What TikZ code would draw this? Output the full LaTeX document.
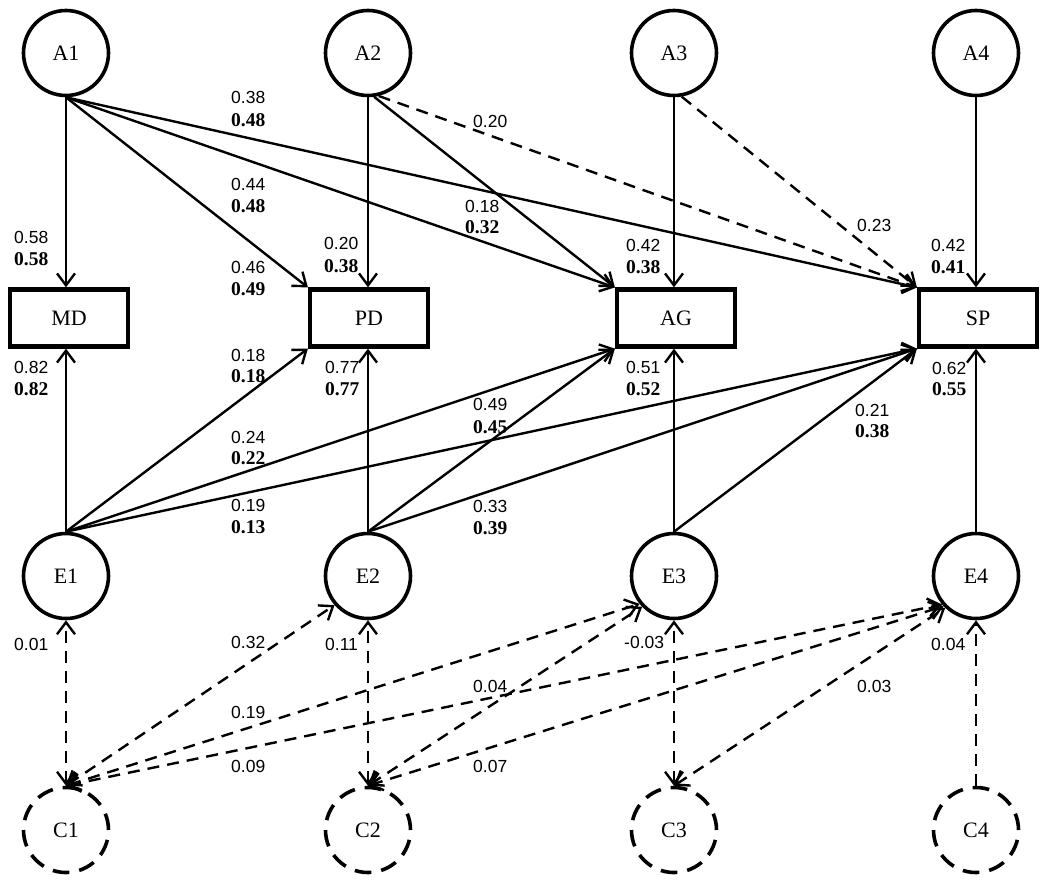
\documentclass[tikz,border=0pt]{standalone}
\usepackage{fontspec}
\setmainfont{Liberation Serif}
\newfontfamily\plainnum{Liberation Sans}
\usetikzlibrary{arrows.meta}
\begin{document}
\begin{tikzpicture}[x=1pt,y=-1pt,
  lat/.style={circle,draw,line width=3.6pt,minimum size=85pt,inner sep=0pt,font=\fontsize{22}{24}\selectfont},
  ctl/.style={lat,dash pattern=on 16.7pt off 10pt},
  obs/.style={rectangle,draw,line width=4.2pt,minimum width=118pt,minimum height=57pt,inner sep=0pt,font=\fontsize{22}{24}\selectfont},
  tip/.tip={Straight Barb[length=12pt,width=18pt]},
  pth/.style={line width=2.4pt,-tip},
  dpth/.style={pth,dash pattern=on 12pt off 8pt},
  cor/.style={dpth,tip-tip},
  pl/.style={anchor=base west,inner sep=0pt,font=\plainnum\fontsize{17.5}{20}\selectfont},
  bd/.style={anchor=base west,inner sep=0pt,font=\fontsize{19.5}{22}\selectfont\bfseries}]
\useasboundingbox (0,0) rectangle (1050,883);
% latent nodes
\node[lat] (A1) at (66,53) {A1};
\node[lat] (A2) at (368,53) {A2};
\node[lat] (A3) at (674,53) {A3};
\node[lat] (A4) at (976,53) {A4};
\node[obs] (MD) at (69,318) {MD};
\node[obs] (PD) at (369,318) {PD};
\node[obs] (AG) at (676,318) {AG};
\node[obs] (SP) at (978,318) {SP};
\node[lat] (E1) at (66,576) {E1};
\node[lat] (E2) at (368,576) {E2};
\node[lat] (E3) at (674,576) {E3};
\node[lat] (E4) at (976,576) {E4};
\node[ctl] (C1) at (66,830) {C1};
\node[ctl] (C2) at (368,830) {C2};
\node[ctl] (C3) at (674,830) {C3};
\node[ctl] (C4) at (976,830) {C4};
% A paths
\draw[pth] (A1.south) -- (A1.south |- MD.north);
\draw[pth] (A1.south) -- (PD.north west);
\draw[pth] (A1.south) -- (AG.north west);
\draw[pth] (A1.south) -- (SP.north west);
\draw[pth] (A2.south) -- (A2.south |- PD.north);
\draw[pth] (A2.-82) -- (AG.north west);
\draw[dpth] (A2.-76) -- (SP.north west);
\draw[pth] (A3.south) -- (A3.south |- AG.north);
\draw[dpth] (A3.-80) -- (SP.north west);
\draw[pth] (A4.south) -- (A4.south |- SP.north);
% E paths
\draw[pth] (E1.north) -- (E1.north |- MD.south);
\draw[pth] (E1.north) -- (PD.south west);
\draw[pth] (E1.north) -- (AG.south west);
\draw[pth] (E1.north) -- (SP.south west);
\draw[pth] (E2.north) -- (E2.north |- PD.south);
\draw[pth] (E2.north) -- (AG.south west);
\draw[pth] (E2.north) -- (SP.south west);
\draw[pth] (E3.north) -- (E3.north |- AG.south);
\draw[pth] (E3.north) -- (SP.south west);
\draw[pth] (E4.north) -- (E4.north |- SP.south);
% C correlations
\draw[cor] (C1.north) -- (E1.south);
\draw[cor] (C1.north) -- (E2.221);
\draw[cor] (C1.north) -- (E3.219);
\draw[cor] (C1.north) -- (E4.220);
\draw[cor] (C2.north) -- (E2.south);
\draw[cor] (C2.north) -- (E3.224);
\draw[cor] (C2.north) -- (E4.223);
\draw[cor] (C3.north) -- (E3.south);
\draw[cor] (C3.north) -- (E4.226);
\draw[dpth] (C4.north) -- (E4.south);
% labels
\node[pl] (l1a) at (14,243) {0.58};   \node[bd] (l1b) at (14,265) {0.58};
\node[pl] (l2a) at (231,103) {0.38};  \node[bd] (l2b) at (231,126) {0.48};
\node[pl] (l3a) at (231,190) {0.44};  \node[bd] (l3b) at (231,212) {0.48};
\node[pl] (l4a) at (231,273) {0.46};  \node[bd] (l4b) at (231,295) {0.49};
\node[pl] (l5a) at (465,212) {0.18};  \node[bd] (l5b) at (465,233) {0.32};
\node[pl] (l6a) at (324,249) {0.20};  \node[bd] (l6b) at (324,272) {0.38};
\node[pl] (l7a) at (473,128) {0.20};
\node[pl] (l8a) at (626,251) {0.42};  \node[bd] (l8b) at (626,273) {0.38};
\node[pl] (l9a) at (857,231) {0.23};
\node[pl] (l10a) at (931,251) {0.42}; \node[bd] (l10b) at (931,273) {0.41};
\node[pl] (l11a) at (14,373) {0.82};  \node[bd] (l11b) at (14,395) {0.82};
\node[pl] (l12a) at (231,361) {0.18}; \node[bd] (l12b) at (231,382) {0.18};
\node[pl] (l13a) at (325,373) {0.77}; \node[bd] (l13b) at (325,395) {0.77};
\node[pl] (l14a) at (473,410) {0.49}; \node[bd] (l14b) at (473,433) {0.45};
\node[pl] (l15a) at (231,443) {0.24}; \node[bd] (l15b) at (231,464) {0.22};
\node[pl] (l16a) at (231,511) {0.19}; \node[bd] (l16b) at (231,533) {0.13};
\node[pl] (l17a) at (473,512) {0.33}; \node[bd] (l17b) at (473,534) {0.39};
\node[pl] (l18a) at (626,373) {0.51}; \node[bd] (l18b) at (626,395) {0.52};
\node[pl] (l19a) at (855,416) {0.21}; \node[bd] (l19b) at (855,437) {0.38};
\node[pl] (l20a) at (932,374) {0.62}; \node[bd] (l20b) at (932,395) {0.55};
\node[pl] (l21) at (14,650) {0.01};
\node[pl] (l22) at (231,648) {0.32};
\node[pl] (l23) at (325,650) {0.11};
\node[pl] (l24) at (231,718) {0.19};
\node[pl] (l25) at (231,772) {0.09};
\node[pl] (l26) at (473,692) {0.04};
\node[pl] (l27) at (473,772) {0.07};
\node[pl] (l28) at (624,648) {-0.03};
\node[pl] (l29) at (931,650) {0.04};
\node[pl] (l30) at (857,692) {0.03};
\end{tikzpicture}
\end{document}
